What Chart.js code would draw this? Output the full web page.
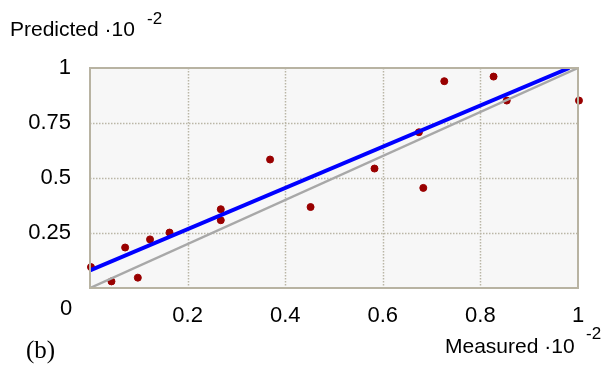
<!DOCTYPE html>
<html>
<head>
<meta charset="utf-8">
<script src="https://cdn.jsdelivr.net/npm/chart.js@4/dist/chart.umd.min.js"></script>
<style>
  html, body { margin: 0; padding: 0; background: #fff; }
  #wrap { width: 611px; height: 365px; position: relative; }
</style>
</head>
<body>
<div id="wrap"><canvas id="chart"></canvas></div>
<script>
// Data (units of 10^-2)
const measured  = [0.002, 0.044, 0.072, 0.098, 0.123, 0.163, 0.268, 0.268, 0.369, 0.452, 0.583, 0.674, 0.683, 0.726, 0.827, 0.854, 1.002];
const predicted = [0.095, 0.030, 0.184, 0.047, 0.221, 0.252, 0.358, 0.308, 0.584, 0.368, 0.543, 0.708, 0.455, 0.940, 0.961, 0.852, 0.852];

// Fitted line (blue) and the identity line (grey)
const fitX = [0, 0.982];
const fitY = [0.08, 1.0];
const idealX = [0, 1];
const idealY = [0, 1];

const xTicks = ['0.2', '0.4', '0.6', '0.8', '1'];
const yTicks = ['0.25', '0.5', '0.75', '1'];

const FONT = 'Liberation Sans, Arial, sans-serif';
const toPoints = (xs, ys) => xs.map((x, i) => ({ x, y: ys[i] }));

// Axis titles, corner zero and panel label
const labelsPlugin = {
  id: 'labels',
  afterDraw(chart) {
    const ctx = chart.ctx;
    ctx.save();
    ctx.fillStyle = '#000';
    ctx.textBaseline = 'alphabetic';
    ctx.textAlign = 'left';

    ctx.font = '21px ' + FONT;
    ctx.fillText('Predicted \u00b710', 10, 36);
    ctx.font = '17px ' + FONT;
    ctx.fillText('-2', 147, 24);

    ctx.font = '21px ' + FONT;
    ctx.fillText('Measured \u00b710', 445, 353);
    ctx.font = '17px ' + FONT;
    ctx.fillText('-2', 586, 339);

    ctx.font = '22px ' + FONT;
    ctx.textAlign = 'center';
    ctx.textBaseline = 'middle';
    ctx.fillText('0', 66, 309);

    ctx.font = '25px Liberation Serif, Times New Roman, serif';
    ctx.textAlign = 'left';
    ctx.textBaseline = 'alphabetic';
    ctx.fillText('(b)', 26, 358);
    ctx.restore();
  }
};

new Chart(document.getElementById('chart'), {
  type: 'scatter',
  data: {
    datasets: [
      {
        type: 'line',
        data: toPoints(idealX, idealY),
        borderColor: '#a8a8a8',
        borderWidth: 2.5,
        pointRadius: 0,
        order: 1
      },
      {
        type: 'line',
        data: toPoints(fitX, fitY),
        borderColor: '#0000ff',
        borderWidth: 4,
        pointRadius: 0,
        order: 0
      },
      {
        data: toPoints(measured, predicted),
        backgroundColor: '#990000',
        borderColor: '#990000',
        pointRadius: 3.5,
        pointHoverRadius: 3.5,
        clip: false,
        order: 2
      }
    ]
  },
  options: {
    responsive: true,
    maintainAspectRatio: false,
    animation: false,
    events: [],
    layout: { padding: { left: 0, right: 33, top: 68, bottom: 0 } },
    plugins: {
      legend: { display: false },
      tooltip: { enabled: false }
    },
    scales: {
      x: {
        type: 'linear',
        min: 0,
        max: 1,
        afterFit: s => { s.height = 77; },
        afterBuildTicks: s => { s.ticks = [0, 0.2, 0.4, 0.6, 0.8, 1].map(v => ({ value: v })); },
        ticks: {
          color: '#000',
          font: { family: FONT, size: 22 },
          padding: 7,
          maxRotation: 0,
          callback: (v, i) => (i === 0 ? '' : xTicks[i - 1])
        },
        grid: { display: false },
        border: { display: false }
      },
      y: {
        type: 'linear',
        min: 0,
        max: 1,
        afterFit: s => { s.width = 90; },
        afterBuildTicks: s => { s.ticks = [0, 0.25, 0.5, 0.75, 1].map(v => ({ value: v })); },
        ticks: {
          color: '#000',
          font: { family: FONT, size: 22 },
          padding: 11,
          callback: (v, i) => (i === 0 ? '' : yTicks[i - 1])
        },
        grid: { display: false },
        border: { display: false }
      }
    }
  },
  plugins: [
    labelsPlugin,
    {
      // plot background and dotted grid at the tick positions
      id: 'dots',
      beforeDatasetsDraw(chart) {
        const a = chart.chartArea;
        const ctx = chart.ctx;
        const xs = chart.scales.x, ys = chart.scales.y;
        ctx.save();
        ctx.fillStyle = '#f7f7f7';
        ctx.fillRect(a.left, a.top, a.right - a.left, a.bottom - a.top);
        ctx.strokeStyle = '#bab6a6';
        ctx.lineWidth = 1.5;
        ctx.setLineDash([1.5, 1.5]);
        xs.ticks.slice(1, -1).forEach(t => {
          const px = Math.round(xs.getPixelForValue(t.value)) + 0.5;
          ctx.beginPath(); ctx.moveTo(px, a.top); ctx.lineTo(px, a.bottom); ctx.stroke();
        });
        ys.ticks.slice(1, -1).forEach(t => {
          const py = Math.round(ys.getPixelForValue(t.value)) + 0.5;
          ctx.beginPath(); ctx.moveTo(a.left, py); ctx.lineTo(a.right, py); ctx.stroke();
        });
        ctx.restore();
      }
    },
    {
      id: 'frame',
      afterDatasetsDraw(chart) {
        const a = chart.chartArea;
        const ctx = chart.ctx;
        ctx.save();
        ctx.strokeStyle = '#b8b3a2';
        ctx.lineWidth = 2;
        ctx.strokeRect(a.left, a.top, a.right - a.left, a.bottom - a.top);
        ctx.restore();
      }
    }
  ]
});
</script>
</body>
</html>
